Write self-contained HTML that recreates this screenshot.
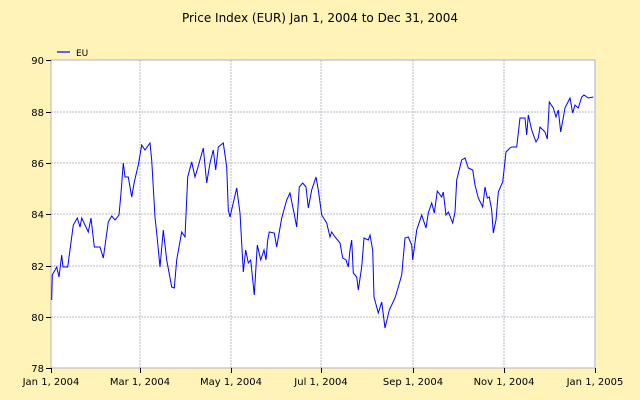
<!DOCTYPE html>
<html><head><meta charset="utf-8"><style>
html,body{margin:0;padding:0;}
body{width:640px;height:400px;background:#fff3b8;overflow:hidden;}
svg{display:block;font-family:"DejaVu Sans","Liberation Sans",sans-serif;}
</style></head><body>
<svg width="640" height="400" viewBox="0 0 640 400" xmlns="http://www.w3.org/2000/svg">
<rect width="640" height="400" fill="#fff3b8"/>
<text x="320" y="22" font-size="12" text-anchor="middle" fill="#000">Price Index (EUR) Jan 1, 2004 to Dec 31, 2004</text>
<line x1="57" y1="52" x2="70" y2="52" stroke="#0000ff" stroke-width="1.2"/>
<text x="76" y="56" font-size="9" fill="#000">EU</text>
<rect x="51" y="60" width="544" height="308" fill="#fff" stroke="#b0b0c0" stroke-width="1"/>
<g stroke="#b8b8c8" stroke-width="1" stroke-dasharray="2,1">
<line x1="51" y1="112" x2="595" y2="112"/><line x1="51" y1="163" x2="595" y2="163"/>
<line x1="51" y1="214" x2="595" y2="214"/><line x1="51" y1="266" x2="595" y2="266"/>
<line x1="51" y1="317" x2="595" y2="317"/>
<line x1="140" y1="60" x2="140" y2="368"/><line x1="231" y1="60" x2="231" y2="368"/>
<line x1="321" y1="60" x2="321" y2="368"/><line x1="413" y1="60" x2="413" y2="368"/>
<line x1="504" y1="60" x2="504" y2="368"/>
</g>
<g stroke="#000" stroke-width="1">
<line x1="46" y1="60.5" x2="51" y2="60.5"/><line x1="46" y1="112.5" x2="51" y2="112.5"/>
<line x1="46" y1="163.5" x2="51" y2="163.5"/><line x1="46" y1="214.5" x2="51" y2="214.5"/>
<line x1="46" y1="266.5" x2="51" y2="266.5"/><line x1="46" y1="317.5" x2="51" y2="317.5"/>
<line x1="46" y1="368.5" x2="51" y2="368.5"/>
<line x1="51.5" y1="368" x2="51.5" y2="373"/><line x1="140.5" y1="368" x2="140.5" y2="373"/>
<line x1="231.5" y1="368" x2="231.5" y2="373"/><line x1="321.5" y1="368" x2="321.5" y2="373"/>
<line x1="413.5" y1="368" x2="413.5" y2="373"/><line x1="504.5" y1="368" x2="504.5" y2="373"/>
<line x1="595.5" y1="368" x2="595.5" y2="373"/>
</g>
<g font-size="10" fill="#000" text-anchor="end">
<text x="44" y="64">90</text><text x="44" y="116">88</text><text x="44" y="167">86</text>
<text x="44" y="218">84</text><text x="44" y="270">82</text><text x="44" y="321">80</text><text x="44" y="372">78</text>
</g>
<g font-size="10" fill="#000" text-anchor="middle">
<text x="51" y="385">Jan 1, 2004</text><text x="140" y="385">Mar 1, 2004</text>
<text x="231" y="385">May 1, 2004</text><text x="321" y="385">Jul 1, 2004</text>
<text x="413" y="385">Sep 1, 2004</text><text x="504" y="385">Nov 1, 2004</text>
<text x="595" y="385">Jan 1, 2005</text>
</g>
<polyline fill="none" stroke="#0000ff" stroke-width="1" points="
51.7,300 52.3,275 56.7,267 59,277 61.7,255 63,267 67.7,267 73.3,225 77.3,218 80,227 81.7,218 88.3,232 91,218 94.3,247 100,247 103.3,258 108.3,222 111.7,216 115,220 119,215 121,193 123.3,163 125,177 128.3,177 131.7,197 134.3,182 138.3,165 141.7,145 145,150 150,143 151.7,160 155,217 156.7,233 160,267 163.3,230 166.7,260 171.7,287 174.3,288 176.7,260 181.7,232 185,237 187.7,177 191.7,162 195,177 197.7,168 203.3,148 206.7,183 210,163 213.3,150 215.7,170 218.3,147 223.3,143 226.7,167 228.3,210 230,217 236.7,188 240,213 243.3,272 245.7,250 248.3,263 250.7,260 254.3,295 257.3,245 260.7,260 264,250 266,260 267.7,240 269.3,232 274.3,233 276.7,247 281.7,218 286.7,200 290,193 294,213 296.7,227 299.3,187 302.7,183 306,187 308.3,208 311.7,190 316,177 318.3,190 321.7,215 326.7,223 330,237 331.7,232 335,237 340,243 342.7,258 346,260 348.3,267 350,250 351.7,240 353.3,273 356.7,277 358.3,290 361.7,267 364,238 368.3,240 370,235 372.7,250 374,297 378.3,313 381.7,302 385,328 389.3,310 395,298 398.3,287 401.7,275 405,238 408.3,237 411.7,245 412.7,260 416.7,230 421.7,215 426,228 428.3,213 431.7,203 434.3,213 437.3,191 441.7,197 443.3,192 446,215 448.3,212 452.7,223 455,212 456.7,180 461.7,160 465,158 468.3,168 472.7,170 475,185 478.3,198 482.7,207 485,187 487.3,198 489.3,197 491.7,210 493.3,233 496,220 498.3,192 502.7,182 506,152 510,148 511.7,147 516.7,147 520,118 525,118 526.7,135 528.3,115 531.7,130 536,142 538.3,138 540,127 545,132 547.3,139 549.3,102 553.3,108 556,117 558.3,110 560.7,132 565,108 570,98 572.7,113 575,105 578.3,108 581.7,97 584,95 588.3,98 593.3,97"/>
</svg>
</body></html>
